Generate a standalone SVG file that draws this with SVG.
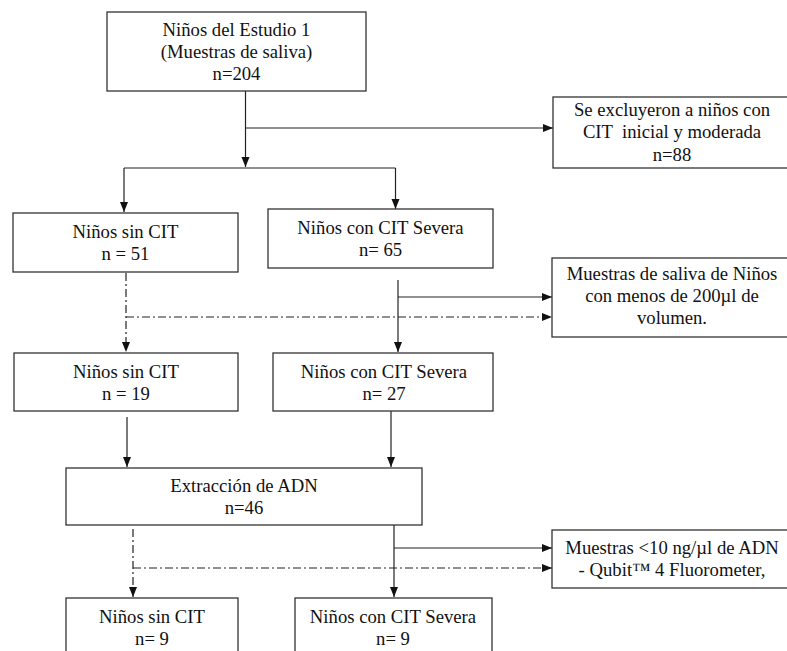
<svg xmlns="http://www.w3.org/2000/svg" width="787" height="651" viewBox="0 0 787 651">
<style>
.box{fill:#fff;stroke:#333;stroke-width:1.3}
.t{font-family:'Liberation Serif',Tinos,'Times New Roman','DejaVu Serif',serif;font-size:18.7px;fill:#111;text-anchor:middle}
.c{fill:none;stroke:#222;stroke-width:1.2}
.d{stroke-dasharray:8 3 2 3}
</style>
<defs>
<marker id="ah" markerUnits="userSpaceOnUse" markerWidth="10" markerHeight="10" viewBox="0 0 10 10" refX="10" refY="5" orient="auto">
<path d="M0,1 L10,5 L0,9 Z" fill="#111"/>
</marker>
</defs>
<rect width="787" height="651" fill="#fff"/>
<g id="connectors">
<path class="c" d="M245.5,91 V167" marker-end="url(#ah)"/>
<path class="c" d="M124,168 H395.5"/>
<path class="c" d="M124,168 V212" marker-end="url(#ah)"/>
<path class="c" d="M395.5,168 V209" marker-end="url(#ah)"/>
<path class="c" d="M245.5,128 H553" marker-end="url(#ah)"/>
<path class="c" d="M398,280 V352" marker-end="url(#ah)"/>
<path class="c" d="M398,297 H552" marker-end="url(#ah)"/>
<path class="c d" d="M126,273 V352" marker-end="url(#ah)"/>
<path class="c d" d="M126,317 H552" marker-end="url(#ah)"/>
<path class="c" d="M127,417 V467" marker-end="url(#ah)"/>
<path class="c" d="M391,411 V467" marker-end="url(#ah)"/>
<path class="c d" d="M133,529 V597" marker-end="url(#ah)"/>
<path class="c d" d="M133,568 H552" marker-end="url(#ah)"/>
<path class="c" d="M394,525 V597" marker-end="url(#ah)"/>
<path class="c" d="M394,548 H552" marker-end="url(#ah)"/>
</g>
<g id="n-estudio">
<rect class="box" x="107" y="12" width="259" height="79"/>
<text class="t" x="236.5" y="36">Niños del Estudio 1</text>
<text class="t" x="236.5" y="58">(Muestras de saliva)</text>
<text class="t" x="236.5" y="80">n=204</text>
</g>
<g id="n-excluidos">
<rect class="box" x="553" y="97" width="240" height="71"/>
<text class="t" x="672" y="116">Se excluyeron a niños con</text>
<text class="t" x="672" y="138" xml:space="preserve">CIT  inicial y moderada</text>
<text class="t" x="672" y="161">n=88</text>
</g>
<g id="n-sin51">
<rect class="box" x="13" y="213" width="225" height="59"/>
<text class="t" x="125.5" y="238">Niños sin CIT</text>
<text class="t" x="125.5" y="260">n = 51</text>
</g>
<g id="n-con65">
<rect class="box" x="268" y="209" width="225" height="59"/>
<text class="t" x="380.5" y="234">Niños con CIT Severa</text>
<text class="t" x="380.5" y="256">n= 65</text>
</g>
<g id="n-saliva">
<rect class="box" x="552" y="258" width="240" height="79"/>
<text class="t" x="672" y="280">Muestras de saliva de Niños</text>
<text class="t" x="672" y="302">con menos de 200µl de</text>
<text class="t" x="672" y="324">volumen.</text>
</g>
<g id="n-sin19">
<rect class="box" x="14" y="353" width="224" height="58"/>
<text class="t" x="126" y="378">Niños sin CIT</text>
<text class="t" x="126" y="400">n = 19</text>
</g>
<g id="n-con27">
<rect class="box" x="273" y="353" width="220" height="58"/>
<text class="t" x="384" y="378">Niños con CIT Severa</text>
<text class="t" x="384" y="400">n= 27</text>
</g>
<g id="n-adn">
<rect class="box" x="66" y="468" width="356" height="57"/>
<text class="t" x="244" y="492">Extracción de ADN</text>
<text class="t" x="244" y="514">n=46</text>
</g>
<g id="n-qubit">
<rect class="box" x="552" y="530" width="240" height="58"/>
<text class="t" x="672" y="554">Muestras &lt;10 ng/µl de ADN</text>
<text class="t" x="672" y="576">- Qubit™ 4 Fluorometer,</text>
</g>
<g id="n-sin9">
<rect class="box" x="66" y="598" width="172" height="60"/>
<text class="t" x="152" y="623">Niños sin CIT</text>
<text class="t" x="152" y="645">n= 9</text>
</g>
<g id="n-con9">
<rect class="box" x="295" y="598" width="197" height="60"/>
<text class="t" x="393" y="623">Niños con CIT Severa</text>
<text class="t" x="393" y="645">n= 9</text>
</g>
</svg>
